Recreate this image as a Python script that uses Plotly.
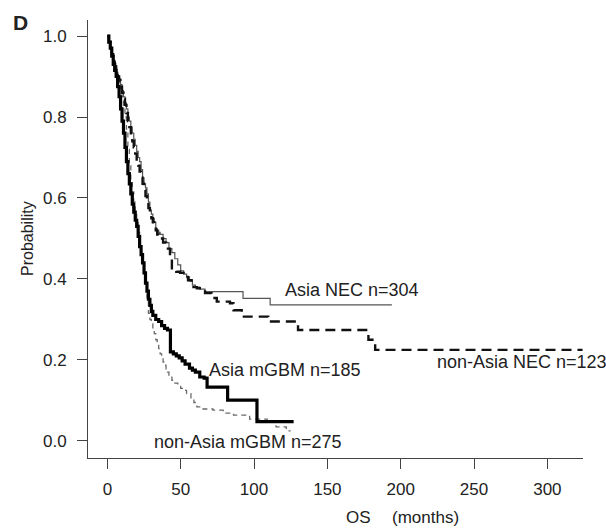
import plotly.graph_objects as go

# ---- data ----
asia_mgbm_t = [0, 1, 2, 3, 4, 5, 6, 7, 8, 9, 10, 11, 12, 13, 14, 15, 16, 17, 18, 19, 20, 21, 22, 23, 24, 25, 26, 27, 28, 29, 30, 31, 33, 35, 37, 39, 41, 43, 45, 47, 49, 51, 53, 56, 58, 60, 63, 66, 68, 82, 102, 127]
asia_mgbm_s = [1.0, 0.985, 0.97, 0.95, 0.93, 0.915, 0.90, 0.875, 0.85, 0.82, 0.79, 0.76, 0.725, 0.69, 0.66, 0.635, 0.61, 0.585, 0.565, 0.545, 0.53, 0.505, 0.48, 0.46, 0.44, 0.415, 0.39, 0.37, 0.35, 0.335, 0.32, 0.31, 0.30, 0.295, 0.285, 0.278, 0.274, 0.22, 0.215, 0.21, 0.205, 0.198, 0.19, 0.18, 0.175, 0.17, 0.158, 0.155, 0.133, 0.101, 0.048, 0.048]

nonasia_mgbm_t = [0, 1, 2, 3, 4, 5, 6, 7, 8, 9, 10, 11, 12, 13, 14, 15, 16, 17, 18, 19, 20, 21, 22, 23, 24, 25, 26, 27, 28, 29, 30, 31, 32, 33, 34, 35, 36, 37, 38, 39, 40, 41, 42, 44, 46, 48, 50, 52, 54, 57, 59, 61, 64, 72, 79, 86, 97, 109, 115, 122, 125]
nonasia_mgbm_s = [1.0, 0.985, 0.97, 0.955, 0.94, 0.925, 0.91, 0.90, 0.885, 0.87, 0.85, 0.825, 0.80, 0.77, 0.72, 0.68, 0.645, 0.615, 0.59, 0.565, 0.54, 0.515, 0.49, 0.465, 0.44, 0.415, 0.39, 0.35, 0.315, 0.30, 0.29, 0.275, 0.265, 0.25, 0.24, 0.228, 0.215, 0.205, 0.195, 0.187, 0.178, 0.17, 0.162, 0.15, 0.143, 0.137, 0.13, 0.125, 0.117, 0.105, 0.095, 0.084, 0.079, 0.076, 0.069, 0.064, 0.054, 0.047, 0.035, 0.025, 0.025]

asia_nec_t = [0, 1, 2, 3, 4, 5, 6, 7, 8, 9, 10, 11, 12, 13, 14, 15, 16, 17, 18, 19, 20, 21, 22, 23, 24, 25, 26, 27, 28, 29, 30, 31, 32, 33, 34, 35, 36, 38, 40, 42, 44, 46, 48, 50, 52, 54, 56, 58, 60, 63, 66.6, 92.5, 111, 194]
asia_nec_s = [1.0, 0.985, 0.97, 0.955, 0.94, 0.925, 0.91, 0.90, 0.895, 0.88, 0.865, 0.85, 0.835, 0.82, 0.80, 0.79, 0.775, 0.76, 0.745, 0.73, 0.715, 0.70, 0.69, 0.67, 0.65, 0.635, 0.625, 0.61, 0.59, 0.57, 0.56, 0.55, 0.54, 0.525, 0.52, 0.515, 0.51, 0.50, 0.49, 0.475, 0.465, 0.45, 0.435, 0.42, 0.412, 0.405, 0.395, 0.385, 0.38, 0.375, 0.369, 0.352, 0.336, 0.336]

nonasia_nec_t = [0, 1, 2, 3, 4, 5, 6, 7, 8, 9, 10, 11, 12, 13, 14, 15, 16, 17, 18, 19, 20, 21, 22, 23, 24, 25, 26, 27, 28, 29, 30, 31, 32, 33, 34, 35, 36, 38, 40, 42.7, 44, 47, 49.6, 52, 55, 57.5, 61, 66.6, 71, 74.6, 83.6, 86, 91.6, 109.7, 130, 178, 182.6, 324]
nonasia_nec_s = [1.0, 0.985, 0.97, 0.955, 0.94, 0.925, 0.91, 0.90, 0.89, 0.875, 0.86, 0.845, 0.83, 0.81, 0.79, 0.775, 0.76, 0.74, 0.725, 0.71, 0.695, 0.68, 0.665, 0.65, 0.635, 0.62, 0.605, 0.59, 0.575, 0.56, 0.55, 0.54, 0.53, 0.52, 0.51, 0.505, 0.50, 0.49, 0.475, 0.455, 0.42, 0.418, 0.415, 0.405, 0.397, 0.38, 0.377, 0.365, 0.353, 0.344, 0.34, 0.323, 0.307, 0.295, 0.274, 0.25, 0.225, 0.225]

x_ticks = [0, 50, 100, 150, 200, 250, 300]
y_ticks = [0.0, 0.2, 0.4, 0.6, 0.8, 1.0]
y_tick_labels = ["0.0", "0.2", "0.4", "0.6", "0.8", "1.0"]

labels = ["Asia NEC n=304", "non-Asia NEC n=123", "Asia mGBM n=185", "non-Asia mGBM n=275"]
label_x = [119.8, 223.3, 68.0, 30.5]
label_y = [0.373, 0.195, 0.175, -0.003]

FONT = "Liberation Sans, Arial, Helvetica, sans-serif"

fig = go.Figure()
fig.add_trace(go.Scatter(x=nonasia_mgbm_t, y=nonasia_mgbm_s, mode="lines", line_shape="hv",
                         line=dict(color="#6a6a6a", width=1.3, dash="5px,4px"), showlegend=False))
fig.add_trace(go.Scatter(x=asia_nec_t, y=asia_nec_s, mode="lines", line_shape="hv",
                         line=dict(color="#555555", width=1.2), showlegend=False))
fig.add_trace(go.Scatter(x=nonasia_nec_t, y=nonasia_nec_s, mode="lines", line_shape="hv",
                         line=dict(color="#111111", width=2.4, dash="10px,6px"), showlegend=False))
fig.add_trace(go.Scatter(x=asia_mgbm_t, y=asia_mgbm_s, mode="lines", line_shape="hv",
                         line=dict(color="#000000", width=3.2), showlegend=False))

for txt, lx, ly in zip(labels, label_x, label_y):
    fig.add_annotation(x=lx, y=ly, xref="x", yref="y", text=txt, showarrow=False,
                       xanchor="left", yanchor="middle",
                       font=dict(family=FONT, size=18, color="#222222"))

W, H = 606, 528
L, R, T, B = 88, 23, 20, 70
pw, ph = W - L - R, H - T - B

def px_to_paper(px, py):
    return (px - L) / pw, (H - B - py) / ph

# axis titles and panel letter, positioned by pixel centres
extra = [("Probability", 27, 239, 16, -90),
         ("OS", 358, 517, 17, 0),
         ("(months)", 425, 517, 17, 0),
         ("<b>D</b>", 20, 22, 21, 0)]
for txt, cx, cy, fs, ang in extra:
    ax_, ay_ = px_to_paper(cx, cy)
    fig.add_annotation(text=txt, xref="paper", yref="paper", x=ax_, y=ay_, showarrow=False,
                       xanchor="center", yanchor="middle", textangle=ang,
                       font=dict(family=FONT, size=fs, color="#222222"))

axis_common = dict(showline=True, linecolor="#444444", linewidth=1, ticks="outside",
                   ticklen=10, tickwidth=1, tickcolor="#444444", showgrid=False, zeroline=False,
                   tickfont=dict(family=FONT, size=17, color="#222222"))
fig.update_xaxes(range=[-13.2, 324.3], tickvals=x_ticks, ticklabelstandoff=6, **axis_common)
fig.update_yaxes(range=[-0.042, 1.0395], tickvals=y_ticks, ticktext=y_tick_labels,
                 ticklabelstandoff=7, **axis_common)

fig.update_layout(width=W, height=H, margin=dict(l=L, r=R, t=T, b=B, autoexpand=False),
                  paper_bgcolor="white", plot_bgcolor="white")

fig.write_html("out.html", config={"displayModeBar": False},
               post_script="document.body.style.margin='0';document.body.style.padding='0';")
